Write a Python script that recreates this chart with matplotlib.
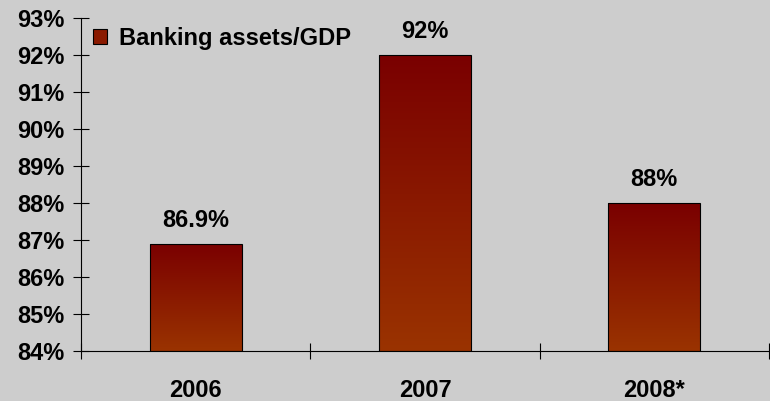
import numpy as np
import matplotlib
matplotlib.use("Agg")
import matplotlib.pyplot as plt
from matplotlib.colors import LinearSegmentedColormap
from matplotlib.ticker import FixedLocator

years = ["2006", "2007", "2008*"]
ratios = [86.9, 92.0, 88.0]
value_labels = ["86.9%", "92%", "88%"]
series_name = "Banking assets/GDP"
y_ticks = list(range(84, 94))

plt.rcParams["font.family"] = ["Liberation Sans", "DejaVu Sans"]
plt.rcParams["font.weight"] = "bold"

bg = "#cdcdcd"
fig = plt.figure(figsize=(7.7, 4.01), dpi=100, facecolor=bg)
ax = fig.add_axes([0.1052, 0.1247, 0.8935, 0.8304])
ax.set_facecolor("none")

# dark red at the top of each bar fading to rust at the bottom
grad = LinearSegmentedColormap.from_list("bar", ["#9a3300", "#7a0000"])
x = np.arange(len(years))
bars = ax.bar(x, [r - 84 for r in ratios], bottom=84, width=0.4,
              color="#8a1a00", edgecolor="black", linewidth=0.8,
              label=series_name, zorder=2)
for b in bars:
    b.set_facecolor("none")
    x0, y0 = b.get_x(), b.get_y()
    x1, y1 = x0 + b.get_width(), y0 + b.get_height()
    img = ax.imshow(np.linspace(0, 1, 256).reshape(-1, 1), cmap=grad,
                    origin="lower", extent=(x0, x1, y0, y1),
                    aspect="auto", zorder=1)
    img.set_clip_path(b)

for xi, r, lab in zip(x, ratios, value_labels):
    ax.annotate(lab, (xi, r), xytext=(0, 17), textcoords="offset points",
                ha="center", va="center", fontsize=17, fontweight="bold")

ax.set_xlim(-0.5, 2.5)
ax.set_ylim(84, 93)
ax.set_yticks(y_ticks)
ax.set_yticklabels([f"{t}%" for t in y_ticks], fontsize=17, fontweight="bold")
ax.set_xticks(x)
ax.set_xticklabels(years, fontsize=17, fontweight="bold")
ax.xaxis.set_minor_locator(FixedLocator([-0.5, 0.5, 1.5, 2.5]))
ax.tick_params(axis="x", which="major", length=0, pad=20)
ax.tick_params(axis="x", which="minor", direction="inout", length=11.5, width=0.8)
ax.tick_params(axis="y", direction="inout", length=11.5, width=0.8, pad=6)

for s in ["top", "right"]:
    ax.spines[s].set_visible(False)
for s in ["left", "bottom"]:
    ax.spines[s].set_linewidth(0.8)

leg = ax.legend(handles=[bars], loc="upper left", frameon=False,
                prop={"size": 17, "weight": "bold"}, handlelength=0.6,
                handleheight=0.6, handletextpad=0.5,
                bbox_to_anchor=(-0.014, 1.036))
leg.legend_handles[0].set_facecolor("#8a1a00")

fig.savefig("out.png", dpi=100, facecolor=bg)
